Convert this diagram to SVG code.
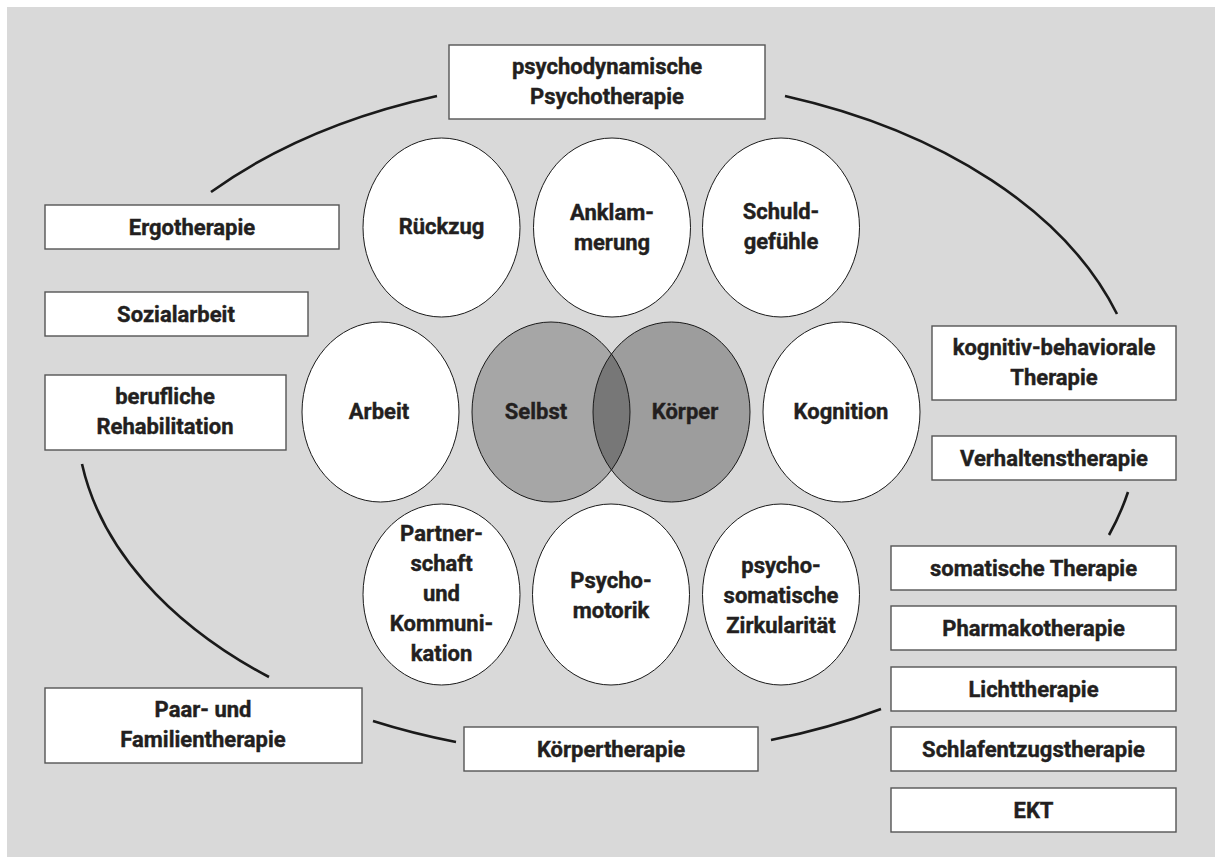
<svg xmlns="http://www.w3.org/2000/svg" width="1222" height="863" viewBox="0 0 1222 863">
<style>
.box{fill:#fff;stroke:#555;stroke-width:1.4}
.ell{fill:#fff;stroke:#1a1a1a;stroke-width:1}
.t{font-family:Roboto,"Liberation Sans",sans-serif;font-weight:700;font-size:22px;fill:#231f20;stroke:#231f20;stroke-width:0.4;text-anchor:middle}
.arc{fill:none;stroke:#1a1a1a;stroke-width:2.6;stroke-linecap:butt}
</style>
<defs>
<clipPath id="clipSelbst"><ellipse cx="551" cy="412" rx="79" ry="90"/></clipPath>
</defs>
<rect x="7" y="7" width="1208" height="850" fill="#d9d9d9"/>

<g id="connectors">
<path class="arc" d="M211,192 A535,340 0 0 1 437,96"/>
<path class="arc" d="M785,96 A535,340 0 0 1 1117,314"/>
<path class="arc" d="M1128,492 A535,340 0 0 1 1109,535"/>
<path class="arc" d="M881,709 A535,340 0 0 1 771,740"/>
<path class="arc" d="M456,742 A535,340 0 0 1 373,721"/>
<path class="arc" d="M269,677 A535,340 0 0 1 82,464"/>
</g>

<g id="n-psychodyn"><rect class="box" x="449" y="45" width="316" height="74"/>
<text class="t" x="607" y="74">psychodynamische</text><text class="t" x="607" y="104">Psychotherapie</text></g>

<g id="n-ergo"><rect class="box" x="45" y="205" width="294" height="44"/><text class="t" x="192" y="235">Ergotherapie</text></g>
<g id="n-sozial"><rect class="box" x="45" y="292" width="263" height="44"/><text class="t" x="176" y="322">Sozialarbeit</text></g>
<g id="n-beruf"><rect class="box" x="45" y="375" width="241" height="75"/>
<text class="t" x="165" y="404">berufliche</text><text class="t" x="165" y="434">Rehabilitation</text></g>
<g id="n-paar"><rect class="box" x="45" y="688" width="317" height="75"/>
<text class="t" x="203" y="717">Paar- und</text><text class="t" x="203" y="747">Familientherapie</text></g>
<g id="n-koerperth"><rect class="box" x="464" y="727" width="294" height="44"/><text class="t" x="611" y="757">Körpertherapie</text></g>

<g id="n-kogbeh"><rect class="box" x="932" y="326" width="244" height="74"/>
<text class="t" x="1054" y="355">kognitiv-behaviorale</text><text class="t" x="1054" y="385">Therapie</text></g>
<g id="n-verhalten"><rect class="box" x="932" y="436" width="244" height="44"/><text class="t" x="1054" y="466">Verhaltenstherapie</text></g>
<g id="n-somat"><rect class="box" x="891" y="546" width="285" height="44"/><text class="t" x="1033.5" y="576">somatische Therapie</text></g>
<g id="n-pharma"><rect class="box" x="891" y="606" width="285" height="44"/><text class="t" x="1033.5" y="636">Pharmakotherapie</text></g>
<g id="n-licht"><rect class="box" x="891" y="667" width="285" height="44"/><text class="t" x="1033.5" y="697">Lichttherapie</text></g>
<g id="n-schlaf"><rect class="box" x="891" y="727" width="285" height="44"/><text class="t" x="1033.5" y="757">Schlafentzugstherapie</text></g>
<g id="n-ekt"><rect class="box" x="891" y="788" width="285" height="44"/><text class="t" x="1033.5" y="818">EKT</text></g>

<g id="n-rueckzug"><ellipse class="ell" cx="441.5" cy="227.5" rx="78.5" ry="89.5"/><text class="t" x="441.5" y="234">Rückzug</text></g>
<g id="n-anklam"><ellipse class="ell" cx="612" cy="227.5" rx="78.5" ry="89.5"/>
<text class="t" x="612" y="220">Anklam-</text><text class="t" x="612" y="250">merung</text></g>
<g id="n-schuld"><ellipse class="ell" cx="781" cy="227.5" rx="78.5" ry="89.5"/>
<text class="t" x="781" y="219">Schuld-</text><text class="t" x="781" y="249">gefühle</text></g>

<g id="n-arbeit"><ellipse class="ell" cx="380.5" cy="412" rx="78.5" ry="90"/><text class="t" x="379" y="419">Arbeit</text></g>
<g id="n-selbst"><ellipse cx="551" cy="412" rx="79" ry="90" fill="#a6a6a6"/></g>
<g id="n-koerper"><ellipse cx="671.5" cy="412" rx="78.5" ry="90" fill="#9d9d9d"/>
<ellipse cx="671.5" cy="412" rx="78.5" ry="90" fill="#777" clip-path="url(#clipSelbst)"/>
<ellipse cx="551" cy="412" rx="79" ry="90" fill="none" stroke="#1a1a1a" stroke-width="1"/>
<ellipse cx="671.5" cy="412" rx="78.5" ry="90" fill="none" stroke="#1a1a1a" stroke-width="1"/>
<text class="t" x="536" y="419">Selbst</text><text class="t" x="685" y="419">Körper</text></g>
<g id="n-kognition"><ellipse class="ell" cx="841.5" cy="412" rx="78.5" ry="90"/><text class="t" x="841" y="419">Kognition</text></g>

<g id="n-partner"><ellipse class="ell" cx="441.5" cy="594.5" rx="78.5" ry="90.5"/>
<text class="t" x="441.5" y="541">Partner-</text><text class="t" x="441.5" y="571">schaft</text><text class="t" x="441.5" y="601">und</text><text class="t" x="441.5" y="631">Kommuni-</text><text class="t" x="441.5" y="661">kation</text></g>
<g id="n-psychomot"><ellipse class="ell" cx="611" cy="594.5" rx="78.5" ry="90.5"/>
<text class="t" x="611" y="588">Psycho-</text><text class="t" x="611" y="618">motorik</text></g>
<g id="n-psychosom"><ellipse class="ell" cx="781" cy="594.5" rx="78.5" ry="90.5"/>
<text class="t" x="781" y="573">psycho-</text><text class="t" x="781" y="603">somatische</text><text class="t" x="781" y="633">Zirkularität</text></g>
</svg>
